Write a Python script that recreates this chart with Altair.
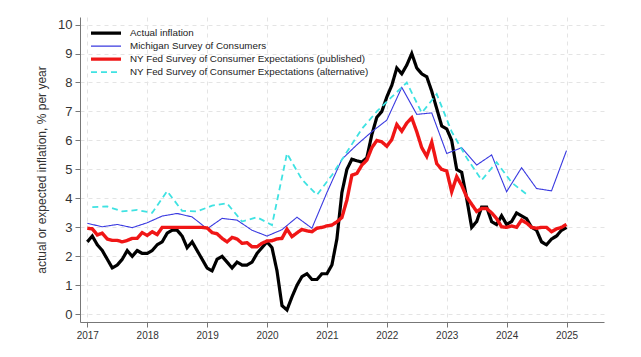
import altair as alt
import pandas as pd

SERIES = [
    "Actual inflation",
    "Michigan Survey of Consumers",
    "NY Fed Survey of Consumer Expectations (published)",
    "NY Fed Survey of Consumer Expectations (alternative)",
]
COLORS = ["#000000", "#3a3ae0", "#f01616", "#3fe2e2"]
WIDTHS = [3.2, 1.1, 3.4, 1.8]
DASHES = [[1, 0], [1, 0], [1, 0], [6, 4]]

# Monthly, Jan 2017 - Jan 2025
actual = [
    2.5, 2.7, 2.4, 2.2, 1.9, 1.6, 1.7, 1.9, 2.2, 2.0, 2.2, 2.1,
    2.1, 2.2, 2.4, 2.5, 2.8, 2.9, 2.9, 2.7, 2.3, 2.5, 2.2, 1.9,
    1.6, 1.5, 1.9, 2.0, 1.8, 1.6, 1.8, 1.7, 1.7, 1.8, 2.1, 2.3,
    2.5, 2.3, 1.5, 0.3, 0.15, 0.6, 1.0, 1.3, 1.4, 1.2, 1.2, 1.4,
    1.4, 1.7, 2.6, 4.2, 5.0, 5.35, 5.3, 5.25, 5.4, 6.2, 6.8, 7.0,
    7.5, 7.9, 8.5, 8.3, 8.6, 9.0, 8.5, 8.3, 8.2, 7.7, 7.1, 6.5,
    6.4, 6.0, 5.0, 4.9, 4.0, 3.0, 3.2, 3.7, 3.7, 3.2, 3.1, 3.4,
    3.1, 3.2, 3.5, 3.4, 3.3, 3.0, 2.9, 2.5, 2.4, 2.6, 2.7, 2.9,
    3.0,
]

# Monthly, Jan 2017 - Jan 2025
nyfed_pub = [
    2.97, 2.95, 2.74, 2.8, 2.6, 2.55, 2.55, 2.5, 2.55, 2.62, 2.62, 2.82,
    2.72, 2.85, 2.75, 3.0, 3.0, 3.0, 3.0, 3.0, 3.0, 3.0, 3.0, 3.0,
    2.98, 2.82, 2.78, 2.62, 2.5, 2.65, 2.6, 2.45, 2.47, 2.33, 2.33, 2.45,
    2.53, 2.54, 2.6, 2.62, 2.94, 2.68, 2.81, 2.93, 2.88, 2.85, 2.97, 3.0,
    3.05, 3.08, 3.19, 3.34, 3.94, 4.8, 4.86, 5.15, 5.32, 5.75, 6.0, 5.95,
    5.8, 6.03, 6.55, 6.32, 6.6, 6.78, 6.3, 5.75, 5.45, 5.94, 5.2, 5.0,
    4.95, 4.23, 4.75, 4.45, 4.05, 3.8, 3.55, 3.65, 3.65, 3.5, 3.3, 3.02,
    3.0, 3.05, 3.0, 3.25, 3.15, 3.0, 2.97, 3.0, 3.0, 2.85, 2.95, 3.0,
    3.1,
]

# Quarterly (Jan, Apr, Jul, Oct), Jan 2017 - Jan 2025
michigan = [
    3.14, 3.02, 3.1, 2.99,
    3.16, 3.39, 3.48, 3.36,
    2.95, 3.31, 3.25, 2.9,
    2.7, 2.92, 3.35, 2.97,
    4.2, 5.35, 5.85, 6.3,
    6.7, 7.83, 6.9, 6.95,
    5.55, 5.75, 5.15, 5.5,
    4.23, 5.06, 4.34, 4.26,
    5.65,
]

# Quarterly (Feb, May, Aug, Nov), Feb 2017 - May 2024
nyfed_alt = [
    3.7, 3.72, 3.55, 3.6,
    3.5, 4.25, 3.57, 3.55,
    3.75, 3.83, 3.2, 3.35,
    3.08, 5.55, 4.65, 4.12,
    4.8, 5.6, 6.4, 7.0,
    7.5, 8.0, 6.95, 7.6,
    6.3, 5.4, 4.63, 5.25,
    4.55, 4.14,
]

YEARS = list(range(2017, 2026))
Y_TICKS = list(range(0, 11))

rows = []
for i, v in enumerate(actual):
    rows.append({"t": 2017 + i / 12, "value": v, "series": SERIES[0]})
for i, v in enumerate(michigan):
    rows.append({"t": 2017 + 3 * i / 12, "value": v, "series": SERIES[1]})
for i, v in enumerate(nyfed_pub):
    rows.append({"t": 2017 + i / 12, "value": v, "series": SERIES[2]})
for i, v in enumerate(nyfed_alt):
    rows.append({"t": 2017 + 1 / 12 + 3 * i / 12, "value": v, "series": SERIES[3]})
df = pd.DataFrame(rows)


def make_legend():
    return alt.Legend(
        title=None, orient="none", legendX=9, legendY=11,
        symbolType="stroke", symbolSize=900, clipHeight=10.3,
        rowPadding=2, labelOffset=7, labelFontSize=9.8,
        labelFont="Liberation Sans", labelColor="#222222", padding=0,
        labelLimit=400,
    )


x_enc = alt.X(
    "t:Q",
    scale=alt.Scale(domain=[2016.878, 2025.626], nice=False, zero=False),
    axis=alt.Axis(values=YEARS, format="d", title=None),
)
y_enc = alt.Y(
    "value:Q",
    scale=alt.Scale(domain=[-0.266, 10.26], nice=False, zero=False),
    axis=alt.Axis(values=Y_TICKS, format="d",
                  title="actual or expected inflation, % per year"),
)
color_enc = alt.Color(
    "series:N",
    scale=alt.Scale(type="ordinal", domain=SERIES, range=COLORS),
    legend=make_legend(),
)
width_enc = alt.StrokeWidth(
    "series:N",
    scale=alt.Scale(type="ordinal", domain=SERIES, range=WIDTHS),
    legend=make_legend(),
)
dash_enc = alt.StrokeDash(
    "series:N",
    scale=alt.Scale(type="ordinal", domain=SERIES, range=DASHES),
    legend=make_legend(),
)

layers = []
for s in SERIES:
    layers.append(
        alt.Chart(df)
        .transform_filter(alt.datum.series == s)
        .mark_line(strokeJoin="miter", strokeCap="butt")
        .encode(x=x_enc, y=y_enc, color=color_enc,
                strokeWidth=width_enc, strokeDash=dash_enc)
    )

chart = (
    alt.layer(*layers)
    .properties(
        width=524, height=305,
        autosize=alt.AutoSizeParams(type="none"),
        padding={"left": 80, "top": 17, "right": 37, "bottom": 35},
        background="white",
    )
    .configure_view(stroke=None)
    .configure_axis(
        labelFont="Liberation Sans", titleFont="Liberation Sans",
        labelColor="#333333", titleColor="#333333",
        domainColor="#777777", tickColor="#777777", tickSize=5,
        grid=True, gridColor="#e4e4e4", gridDash=[4, 4], gridWidth=1,
        labelPadding=3,
    )
    .configure_axisX(labelFontSize=10)
    .configure_axisY(labelFontSize=13, titleFontSize=12, titleFontWeight="normal",
                     titlePadding=9, labelAngle=0)
)

chart.save("out.html", embed_options={"renderer": "svg", "actions": False})
